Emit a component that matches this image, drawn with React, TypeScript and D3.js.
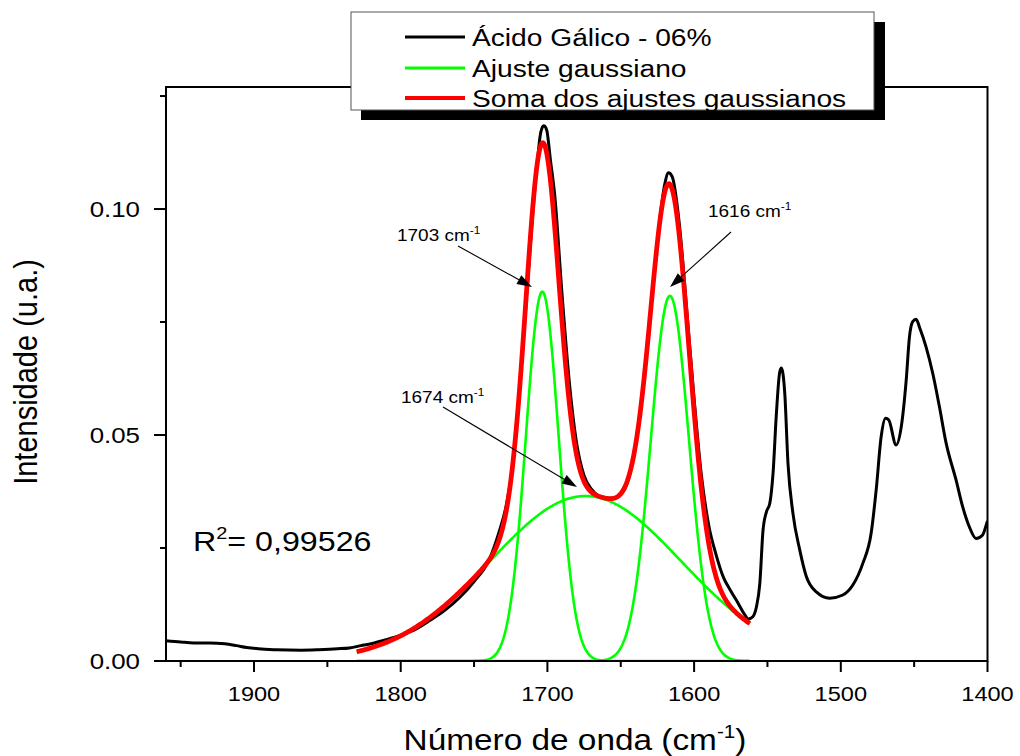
import React from 'react';
import * as d3 from 'd3';

const wavenumbers = [
  1960, 1950, 1941, 1930, 1920, 1912, 1905, 1897, 1885, 1868, 1856, 1843, 1835, 1827, 1818, 1810,
  1800, 1790, 1780, 1770, 1760, 1750, 1740, 1733, 1728, 1724, 1720, 1715, 1710, 1707, 1704.5,
  1702.5, 1700.5, 1698, 1695, 1690, 1685, 1680, 1675, 1670, 1665, 1660, 1655, 1650, 1645, 1640,
  1635, 1630, 1625, 1620, 1617.5, 1615, 1610, 1605, 1600, 1595, 1590, 1585, 1580, 1575, 1570,
  1566, 1563, 1560, 1557.5, 1555.2, 1553, 1550.7, 1548.4, 1546.2, 1543.9, 1541.6, 1540.5, 1538.2,
  1536, 1532.6, 1528, 1523.5, 1516.7, 1507.6, 1498.6, 1491.8, 1485, 1479.3, 1475.9, 1472.5,
  1469.5, 1467.3, 1462.3, 1458.8, 1455.4, 1453.2, 1451, 1448.7, 1446, 1441.9, 1437.3, 1432.8,
  1428.2, 1421.4, 1416.9, 1412.4, 1407.8, 1403.3, 1400.5, 1400,
];
const intensity = [
  0.0045, 0.0042, 0.004, 0.004, 0.0038, 0.0034, 0.003, 0.0027, 0.0025, 0.0024, 0.0025, 0.0027, 0.0029, 0.0034, 0.004, 0.0047,
  0.0057, 0.007, 0.009, 0.0112, 0.014, 0.0176, 0.0222, 0.0285, 0.0345, 0.0425, 0.056, 0.077, 0.099, 0.11, 0.117,
  0.1184, 0.1175, 0.111, 0.103, 0.081, 0.0615, 0.048, 0.041, 0.038, 0.0365, 0.036, 0.036, 0.0368, 0.04, 0.0475,
  0.0595, 0.076, 0.093, 0.1055, 0.108, 0.1072, 0.0965, 0.0775, 0.058, 0.041, 0.03, 0.0235, 0.0185, 0.0155, 0.0128,
  0.0105, 0.0093, 0.0098, 0.012, 0.0172, 0.029, 0.033, 0.0349, 0.0415, 0.0548, 0.064, 0.0648, 0.0592,
  0.0437, 0.0326, 0.0246, 0.0187, 0.0153, 0.0139, 0.0146, 0.0168, 0.0216, 0.0283, 0.0378, 0.0496,
  0.0537, 0.0533, 0.0478, 0.0518, 0.0622, 0.0717, 0.0751, 0.0756, 0.0735, 0.0695, 0.0636, 0.0563,
  0.0482, 0.04, 0.0341, 0.0297, 0.0271, 0.0279, 0.0305, 0.031,
];

// Gaussian fit parameters
const peakCenters = [1703.5, 1616.5, 1674];
const peakHeights = [0.0817, 0.0808, 0.0365];
const peakSigmas = [11.2, 13.0, 65];
const fitRange = [1562, 1830];

const xMajorTicks = [1900, 1800, 1700, 1600, 1500, 1400];
const xMinorTicks = [1950, 1850, 1750, 1650, 1550, 1450];
const yMajorTicks = [0, 0.05, 0.1];
const yMinorTicks = [0.025, 0.075, 0.125];

const legendLabels = ['Ácido Gálico - 06%', 'Ajuste gaussiano', 'Soma dos ajustes gaussianos'];
const legendColors = ['#000000', '#00ff00', '#ff0000'];
const annotationLabels = ['1703', '1616', '1674'];
const r2Label = '0,99526';

// layout
const W = 1020, H = 756;
const L = 166, R = 987.5, T = 87, B = 661;
const SX = 1.15;
const FONT = 'Liberation Sans, Arial, Helvetica, sans-serif';

const x = d3.scaleLinear().domain([1960, 1400]).range([L, R]);
const y = d3.scaleLinear().domain([0, 0.127]).range([B, T]);

const gauss = (w: number, i: number) =>
  peakHeights[i] * Math.exp(-((w - peakCenters[i]) ** 2) / (2 * peakSigmas[i] ** 2));

const fitGrid = d3.range(fitRange[0], fitRange[1] + 0.001, 0.5);
const line = d3.line<[number, number]>().x(d => x(d[0])).y(d => y(d[1])).curve(d3.curveMonotoneX);
const lineRaw = d3.line<[number, number]>().x(d => x(d[0])).y(d => y(d[1]));

const spectrum: [number, number][] = wavenumbers.map((w, i) => [w, intensity[i]]);
const gaussCurves = peakCenters.map((_, i) => fitGrid.map(w => [w, gauss(w, i)] as [number, number]));
const sumCurve = fitGrid.map(w => [w, peakCenters.reduce((s, _, i) => s + gauss(w, i), 0)] as [number, number]);

function Txt(props: { x: number; y: number; size: number; anchor?: string; rotate?: boolean; children: React.ReactNode }) {
  const { x: tx, y: ty, size, anchor = 'start', rotate, children } = props;
  return (
    <text
      transform={`translate(${tx},${ty}) scale(${SX},1)${rotate ? ' rotate(-90)' : ''}`}
      fontSize={size}
      fontFamily={FONT}
      textAnchor={anchor}
      fill="#000"
    >
      {children}
    </text>
  );
}

function Sup({ size, text }: { size: number; text: string }) {
  return (
    <tspan fontSize={size * 0.62} dy={-size * 0.42}>
      {text}
    </tspan>
  );
}

function Arrow({ x1, y1, x2, y2 }: { x1: number; y1: number; x2: number; y2: number }) {
  const ang = Math.atan2(y2 - y1, x2 - x1);
  const len = 15, half = 5;
  const bx = x2 - len * Math.cos(ang), by = y2 - len * Math.sin(ang);
  const px = -Math.sin(ang) * half, py = Math.cos(ang) * half;
  return (
    <g>
      <line x1={x1} y1={y1} x2={bx} y2={by} stroke="#000" strokeWidth={1.1} />
      <polygon points={`${x2},${y2} ${bx + px},${by + py} ${bx - px},${by - py}`} fill="#000" />
    </g>
  );
}

export default function App() {
  const annSize = 16.5;
  const annPos = [
    { tx: 397, ty: 241, a: [458, 246, 532, 287] },
    { tx: 708, ty: 217, a: [731, 232, 670, 287] },
    { tx: 401, ty: 403, a: [443, 407, 577, 487] },
  ];
  const legRows = [37, 68, 98];
  return (
    <svg width={W} height={H} style={{ position: 'absolute', left: 0, top: 0, background: '#fff' }}>
      <rect x={0} y={0} width={W} height={H} fill="#fff" />
      <defs>
        <clipPath id="plotclip">
          <rect x={L} y={T} width={R - L} height={B - T} />
        </clipPath>
      </defs>

      {/* curves */}
      <g clipPath="url(#plotclip)">
        <path d={line(spectrum) || ''} fill="none" stroke="#000" strokeWidth={3} strokeLinejoin="round" />
        {gaussCurves.map((c, i) => (
          <path key={i} d={lineRaw(c) || ''} fill="none" stroke="#00ff00" strokeWidth={2.6} />
        ))}
        <path d={lineRaw(sumCurve) || ''} fill="none" stroke="#ff0000" strokeWidth={4.8} />
      </g>

      {/* frame */}
      <rect x={L} y={T} width={R - L} height={B - T} fill="none" stroke="#000" strokeWidth={2} />

      {/* x ticks */}
      {xMajorTicks.map(t => (
        <g key={'xm' + t}>
          <line x1={x(t)} x2={x(t)} y1={B} y2={B + 11} stroke="#000" strokeWidth={2} />
          <Txt x={x(t)} y={701} size={20.5} anchor="middle">{String(t)}</Txt>
        </g>
      ))}
      {xMinorTicks.map(t => (
        <line key={'xn' + t} x1={x(t)} x2={x(t)} y1={B} y2={B + 6} stroke="#000" strokeWidth={2} />
      ))}
      {/* y ticks */}
      {yMajorTicks.map(t => (
        <g key={'ym' + t}>
          <line x1={L - 12} x2={L} y1={y(t)} y2={y(t)} stroke="#000" strokeWidth={2} />
          <Txt x={140} y={y(t) + 8} size={22.5} anchor="end">{t.toFixed(2)}</Txt>
        </g>
      ))}
      {yMinorTicks.map(t => (
        <line key={'yn' + t} x1={L - 6} x2={L} y1={y(t)} y2={y(t)} stroke="#000" strokeWidth={2} />
      ))}

      {/* axis titles */}
      <Txt x={575} y={750} size={29} anchor="middle">
        Número de onda (cm<Sup size={29} text="-1" /><tspan dy={29 * 0.42}>)</tspan>
      </Txt>
      <Txt x={37} y={372} size={29} anchor="middle" rotate>
        Intensidade (u.a.)
      </Txt>

      {/* R2 */}
      <Txt x={193} y={551} size={28}>
        R<Sup size={28} text="2" /><tspan dy={28 * 0.42}>= {r2Label}</tspan>
      </Txt>

      {/* annotations */}
      {annotationLabels.map((lab, i) => (
        <g key={'an' + i}>
          <Txt x={annPos[i].tx} y={annPos[i].ty} size={annSize}>
            {lab} cm<Sup size={annSize} text="-1" />
          </Txt>
          <Arrow x1={annPos[i].a[0]} y1={annPos[i].a[1]} x2={annPos[i].a[2]} y2={annPos[i].a[3]} />
        </g>
      ))}

      {/* legend */}
      <rect x={361} y={22} width={524} height={98} fill="#000" />
      <rect x={351} y={12} width={523} height={98} fill="#fff" stroke="#555" strokeWidth={1} />
      {legendLabels.map((lab, i) => (
        <g key={'lg' + i}>
          <line
            x1={405}
            x2={465}
            y1={legRows[i]}
            y2={legRows[i]}
            stroke={legendColors[i]}
            strokeWidth={i === 2 ? 4 : 2.8}
          />
          <Txt x={472} y={legRows[i] + 8.8} size={24.5}>{lab}</Txt>
        </g>
      ))}
    </svg>
  );
}
